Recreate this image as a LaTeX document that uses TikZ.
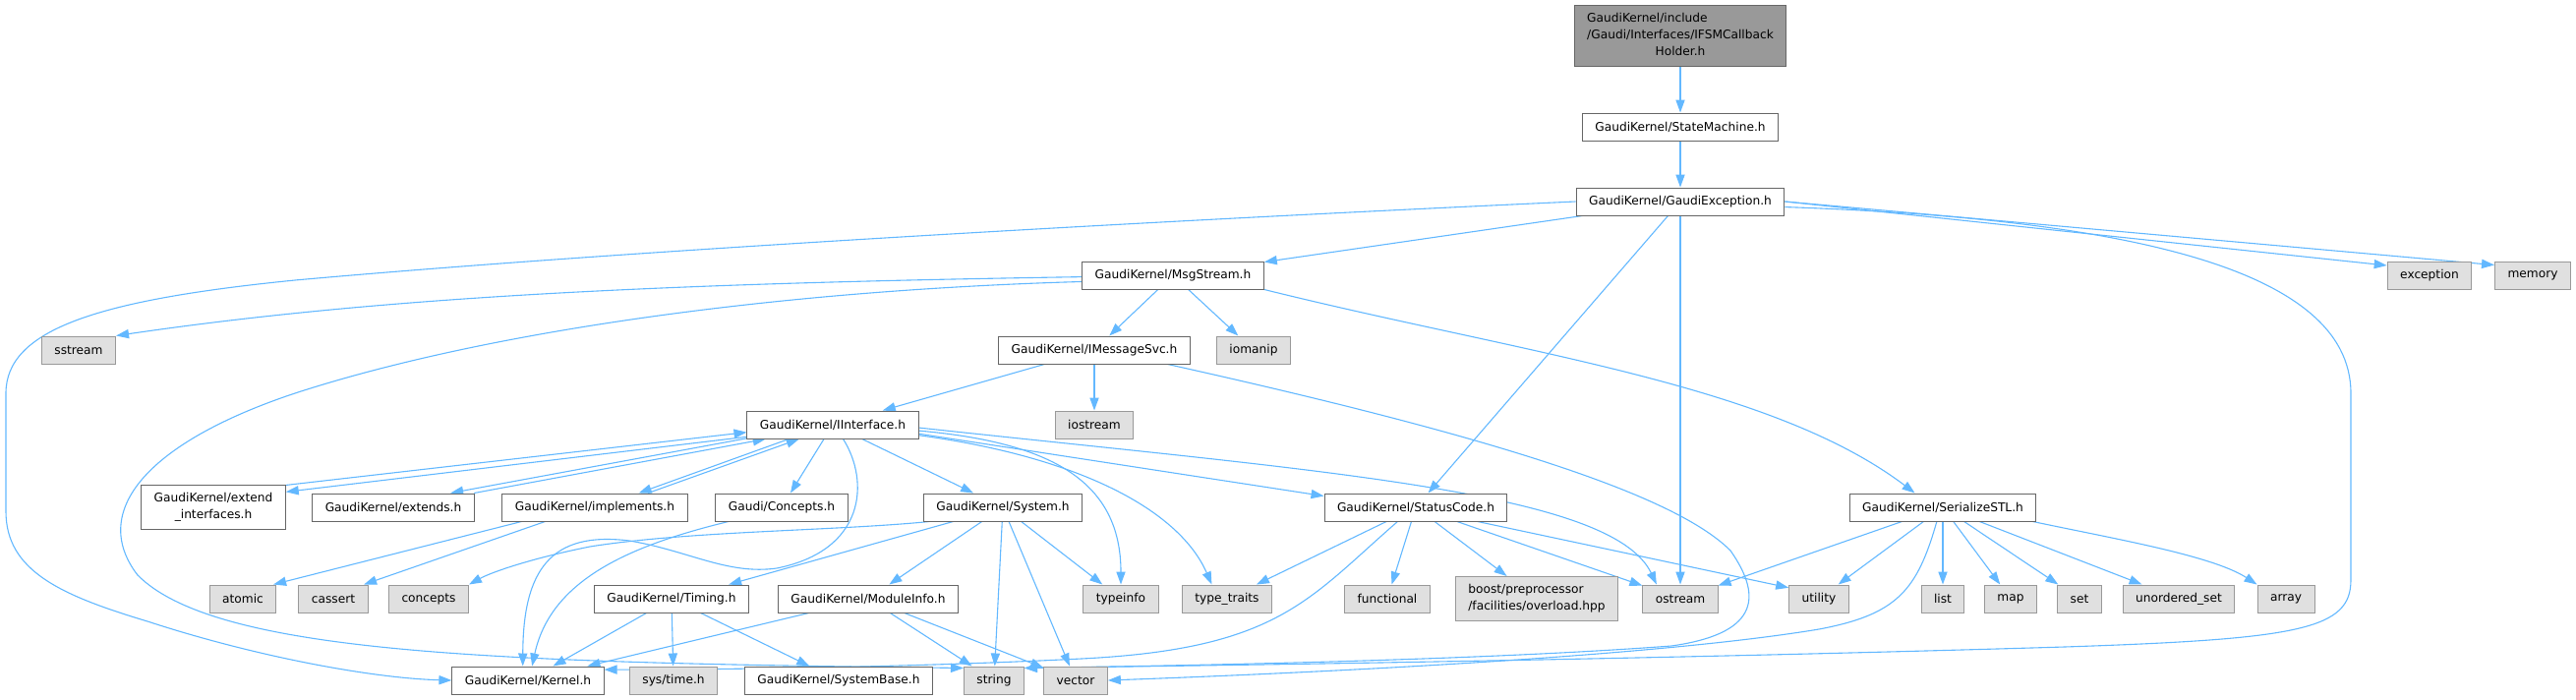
\documentclass[tikz,border=0pt]{standalone}
\usepackage{fontspec}
\setmainfont{DejaVu Sans}
\usetikzlibrary{arrows.meta,backgrounds}
\definecolor{edgeblue}{HTML}{63B8FF}
\definecolor{boxgrey}{HTML}{E0E0E0}
\definecolor{rimgrey}{HTML}{999999}
\definecolor{rimdark}{HTML}{666666}

\begin{document}
\begin{tikzpicture}[x=0.5pt, y=-0.5pt, >={Triangle[length=6.5pt,width=4.6pt]},
  every node/.style={rectangle, font=\fontsize{6.1}{8.5}\selectfont, inner xsep=6.5pt, inner ysep=0pt, minimum height=14pt, line width=0.5pt},
  file/.style={draw=rimdark, fill=white},
  sysfile/.style={draw=rimgrey, fill=boxgrey},
  rootfile/.style={draw=rimdark, fill=rimgrey},
  incl/.style={->, color=edgeblue, line width=0.55pt}]
  \useasboundingbox (0,0) rectangle (2620,712);

  \node[rootfile, minimum height=31pt] (root) at (1709,36) {\begin{tabular}{@{}l@{}}GaudiKernel/include\\/Gaudi/Interfaces/IFSMCallback\\\multicolumn{1}{@{}c@{}}{Holder.h}\end{tabular}};
  \node[file] (sm) at (1709,129) {GaudiKernel/StateMachine.h};
  \node[file] (gex) at (1709,205) {GaudiKernel/GaudiException.h};
  \node[file] (msg) at (1193,280) {GaudiKernel/MsgStream.h};
  \node[sysfile] (exc) at (2471,280) {exception};
  \node[sysfile] (mem) at (2576,280) {memory};
  \node[sysfile] (sstream) at (80,356) {sstream};
  \node[file] (imsg) at (1113,356) {GaudiKernel/IMessageSvc.h};
  \node[sysfile] (iomanip) at (1275,356) {iomanip};
  \node[file] (iif) at (847,432) {GaudiKernel/IInterface.h};
  \node[sysfile] (iostream) at (1113,432) {iostream};
  \node[file, align=center, minimum height=22.5pt] (extif) at (217,516) {GaudiKernel/extend\\\_interfaces.h};
  \node[file] (extends) at (400,516) {GaudiKernel/extends.h};
  \node[file] (impl) at (605,516) {GaudiKernel/implements.h};
  \node[file] (concH) at (795,516) {Gaudi/Concepts.h};
  \node[file] (system) at (1020,516) {GaudiKernel/System.h};
  \node[file] (status) at (1440,516) {GaudiKernel/StatusCode.h};
  \node[file] (serial) at (1976,516) {GaudiKernel/SerializeSTL.h};
  \node[sysfile] (atomic) at (247,609) {atomic};
  \node[sysfile] (cassert) at (339,609) {cassert};
  \node[sysfile] (concepts) at (436,609) {concepts};
  \node[file] (timing) at (683,609) {GaudiKernel/Timing.h};
  \node[file] (modinfo) at (883,609) {GaudiKernel/ModuleInfo.h};
  \node[sysfile] (typeinfo) at (1140,609) {typeinfo};
  \node[sysfile] (typetraits) at (1248,609) {type\_traits};
  \node[sysfile] (functional) at (1411,609) {functional};
  \node[sysfile, align=left, minimum height=22.5pt] (boost) at (1563,609) {boost/preprocessor\\/facilities/overload.hpp};
  \node[sysfile] (ostream) at (1709,609) {ostream};
  \node[sysfile] (utility) at (1850,609) {utility};
  \node[sysfile] (list) at (1976,609) {list};
  \node[sysfile] (map) at (2045,609) {map};
  \node[sysfile] (set) at (2115,609) {set};
  \node[sysfile] (uset) at (2216,609) {unordered\_set};
  \node[sysfile] (array) at (2325,609) {array};
  \node[file] (kernel) at (537,692) {GaudiKernel/Kernel.h};
  \node[sysfile] (systime) at (685,692) {sys/time.h};
  \node[file] (sysbase) at (853,692) {GaudiKernel/SystemBase.h};
  \node[sysfile] (string) at (1011,692) {string};
  \node[sysfile] (vector) at (1094,692) {vector};

  \begin{scope}[on background layer]
  \path[incl] (root) edge (sm);
  \path[incl] (sm) edge (gex);
  \path[incl] (gex) edge (msg) edge (status) edge (ostream);
  \path[incl] (gex.east) edge (exc.167) edge (mem.165);
  \draw[incl] (gex.west) .. controls (1100,228) and (600,258) .. (300,285) .. controls (100,305) and (6,335) .. (6,400) -- (6,520) .. controls (6,580) and (60,605) .. (150,632) .. controls (260,668) and (380,690) .. (kernel.west);
  \draw[incl] (gex.-3) .. controls (2150,222) and (2391,270) .. (2391,400) -- (2391,590) .. controls (2391,640) and (2340,650) .. (2100,658) .. controls (1700,670) and (1300,676) .. (string.22);

  \path[incl] (msg) edge (imsg) edge (iomanip);
  \draw[incl] (msg.181) .. controls (700,288) and (400,300) .. (sstream.north east);
  \draw[incl] (msg.184) .. controls (800,295) and (500,335) .. (300,400) .. controls (150,450) and (90,520) .. (140,585) .. controls (220,665) and (500,674) .. (string.158);
  \draw[incl] (msg.south east) .. controls (1550,360) and (1800,390) .. (serial.153);

  \path[incl] (imsg) edge (iif) edge (iostream);
  \draw[incl] (imsg.-11) .. controls (1500,440) and (1700,500) .. (1760,560) .. controls (1795,610) and (1785,645) .. (1700,657) .. controls (1500,672) and (1200,677) .. (string.22);

  \path[incl] (iif) edge (concH) edge (system);
  \path[incl] (iif.188) edge (extif.12);
  \path[incl] (extif.17) edge (iif.185);
  \path[incl] (iif.189) edge (extends.14);
  \path[incl] (extends.10) edge (iif.192);
  \path[incl] (iif.198) edge (impl.18);
  \path[incl] (impl.15) edge (iif.203);
  \path[incl] (iif.-6) edge (status.173);
  \draw[incl] (iif.-4) .. controls (1070,450) and (1140,490) .. (typeinfo.north);
  \draw[incl] (iif.-7) .. controls (1100,465) and (1200,520) .. (typetraits.137);
  \draw[incl] (iif.-2) .. controls (1350,480) and (1640,500) .. (ostream.149);
  \draw[incl] (iif.-54) .. controls (885,490) and (880,560) .. (790,578) .. controls (740,585) and (700,560) .. (640,550) .. controls (560,540) and (532,580) .. (kernel.110);

  \path[incl] (impl.191) edge (atomic.25);
  \path[incl] (impl.196) edge (cassert.25);
  \draw[incl] (concH.195) .. controls (640,555) and (560,590) .. (kernel.74);

  \path[incl] (system) edge (modinfo) edge (string) edge (vector) edge (typeinfo);
  \path[incl] (system.196) edge (timing.14);
  \draw[incl] (system.191) .. controls (850,540) and (700,540) .. (600,556) .. controls (540,568) and (500,582) .. (concepts.north east);

  \path[incl] (timing) edge (kernel) edge (systime) edge (sysbase);
  \path[incl] (modinfo) edge (kernel) edge (string) edge (vector);

  \path[incl] (status) edge (typetraits) edge (functional) edge (boost) edge (ostream);
  \path[incl] (status.-13) edge (utility.160);
  \draw[incl] (status.218) .. controls (1330,610) and (1300,660) .. (1100,670) .. controls (900,680) and (700,681) .. (kernel.8);

  \foreach \t in {ostream,utility,list,map,set,uset} {
    \path[incl] (serial) edge (\t);
  }
  \draw[incl] (serial.-9) .. controls (2150,548) and (2250,565) .. (array.north west);
  \draw[incl] (serial.-113) .. controls (1950,600) and (1930,625) .. (1850,640) .. controls (1700,665) and (1400,682) .. (vector.east);
  \end{scope}
\end{tikzpicture}
\end{document}
